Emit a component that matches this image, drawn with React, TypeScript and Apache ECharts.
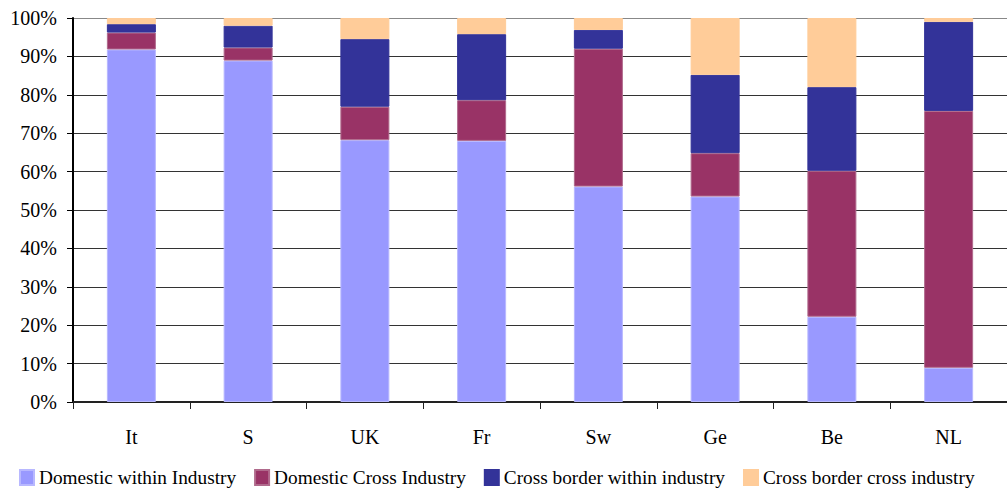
import React, { useEffect, useRef } from "react";
import * as echarts from "echarts";

const categories = ["It", "S", "UK", "Fr", "Sw", "Ge", "Be", "NL"];
const domesticWithin = [91.8, 88.9, 68.2, 68.0, 56.1, 53.5, 22.2, 8.9];
const domesticCross = [4.4, 3.4, 8.7, 10.6, 35.9, 11.3, 38.0, 66.9];
const crossBorderWithin = [2.2, 5.7, 17.6, 17.2, 4.9, 20.4, 21.8, 23.2];
const crossBorderCross = [1.6, 2.0, 5.5, 4.2, 3.1, 14.8, 18.0, 1.0];

const seriesNames = [
  "Domestic within Industry",
  "Domestic Cross Industry",
  "Cross border within industry",
  "Cross border cross industry",
];
const colors = ["#9999FF", "#993366", "#333399", "#FFCC99"];
const borders = ["#b8b8ff", "#b06a8c", "#333399", "#FFCC99"];

const FONT = "Times New Roman, Liberation Serif, DejaVu Serif, serif";

export default function App() {
  const ref = useRef<HTMLDivElement>(null);
  useEffect(() => {
    if (!ref.current) return;
    const chart = echarts.init(ref.current, null, { renderer: "svg" });
    const data = [domesticWithin, domesticCross, crossBorderWithin, crossBorderCross];
    chart.setOption({
      animation: false,
      backgroundColor: "#ffffff",
      textStyle: { fontFamily: FONT },
      grid: { left: 73, right: -10, top: 18, bottom: 87, containLabel: false },
      legend: {
        left: 19,
        top: 468,
        icon: "rect",
        itemWidth: 14,
        itemHeight: 15,
        itemGap: 18,
        padding: 0,
        textStyle: { fontSize: 19.3, fontFamily: FONT, color: "#000" },
        data: seriesNames,
      },
      xAxis: {
        type: "category",
        data: categories,
        axisLine: { show: true, lineStyle: { color: "#222", width: 2 } },
        axisTick: { show: true, length: 7, lineStyle: { color: "#222", width: 1 } },
        axisLabel: { margin: 25, fontSize: 20, fontFamily: FONT, color: "#000" },
      },
      yAxis: {
        type: "value",
        min: 0,
        max: 100,
        interval: 10,
        axisLine: { show: true, lineStyle: { color: "#000", width: 2 } },
        axisTick: { show: true, length: 6, inside: false, lineStyle: { color: "#000", width: 1 } },
        axisLabel: {
          formatter: "{value}%",
          margin: 16,
          fontSize: 20,
          fontFamily: FONT,
          color: "#000",
        },
        splitLine: {
          show: true,
          lineStyle: {
            color: ["#333", "#333", "#333", "#333", "#333", "#333", "#333", "#333", "#333", "#333", "#888"],
            width: 1,
          },
        },
      },
      series: seriesNames.map((name, i) => ({
        name,
        type: "bar",
        stack: "total",
        barWidth: 49,
        data: data[i],
        itemStyle: { color: colors[i], borderColor: borders[i], borderWidth: 1 },
      })),
    });
    return () => chart.dispose();
  }, []);
  return (
    <div
      ref={ref}
      style={{ position: "fixed", left: 0, top: 0, width: 1007, height: 489 }}
    />
  );
}
